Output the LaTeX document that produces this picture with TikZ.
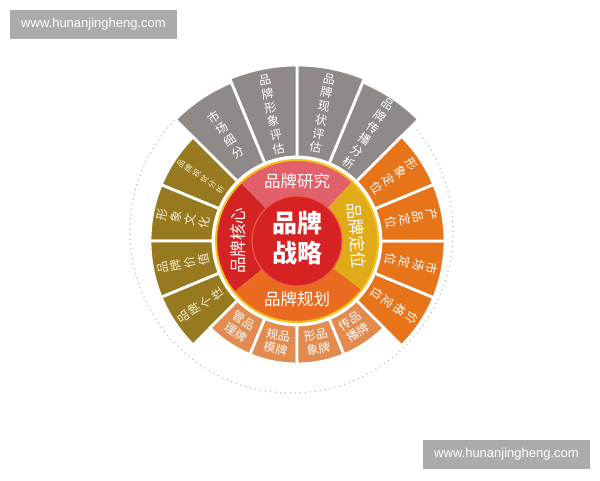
\documentclass[tikz,border=0pt]{standalone}
\usepackage{fontspec}
\newfontfamily\cjk{Noto Sans CJK SC}
\newfontfamily\wmfont{Liberation Sans}
\definecolor{greyseg}{HTML}{8F8987}
\definecolor{oliveseg}{HTML}{97791F}
\definecolor{orangeseg}{HTML}{E8741A}
\definecolor{bottomseg}{HTML}{E38A4E}
\definecolor{qtop}{HTML}{E2606A}
\definecolor{qleft}{HTML}{D42323}
\definecolor{qright}{HTML}{E0AA18}
\definecolor{qbottom}{HTML}{EA6B1F}
\definecolor{corered}{HTML}{D62222}
\definecolor{coreedge}{HTML}{EA5A48}
\definecolor{goldline}{HTML}{F5C21B}
\definecolor{textcream}{HTML}{F6EDCF}
\definecolor{wmgrey}{HTML}{ABABAB}
\definecolor{dotgrey}{HTML}{B4B4B4}
\newcommand{\annsec}[5]{\filldraw[#1] (#2:#4) arc[start angle=#2,end angle=#3,radius=#4] -- (#3:#5) arc[start angle=#3,end angle=#2,radius=#5] -- cycle;}
\newcommand{\annfill}[5]{\fill[#1] (#2:#4) arc[start angle=#2,end angle=#3,radius=#4] -- (#3:#5) arc[start angle=#3,end angle=#2,radius=#5] -- cycle;}
\tikzset{
  segline/.style={draw=white, line width=2.8pt, line join=miter},
  vtext/.style={text=white, align=center, inner sep=0pt, font=\cjk\fontsize{12}{14}\selectfont},
  vsmall/.style={text=textcream, align=center, inner sep=0pt, font=\cjk\fontsize{8}{9.4}\selectfont},
  otext/.style={vtext, text=textcream},
  btext/.style={text=white, align=center, inner sep=0pt, font=\cjk\fontsize{12}{14}\selectfont},
  qtext/.style={text=white, inner sep=0pt, font=\cjk\fontsize{16.5}{18}\selectfont},
  ctext/.style={text=white, align=center, inner sep=0pt, font=\cjk\bfseries\fontsize{25}{29}\selectfont},
  wmbox/.style={fill=wmgrey, text=white, minimum width=167pt, minimum height=29pt, inner sep=0pt, font=\wmfont\fontsize{13}{15}\selectfont},
  dotring/.style={draw=dotgrey, line width=1.5pt, line cap=round, dash pattern=on 0pt off 5pt}
}
\begin{document}
\begin{tikzpicture}[x=1pt,y=1pt]
\useasboundingbox (0,0) rectangle (600,480);
\fill[white] (0,0) rectangle (600,480);
% watermarks
\node[wmbox] (wmA) at (93.5,455.5) {www.hunanjingheng.com};
\node[wmbox] (wmB) at (506.5,25.5) {www.hunanjingheng.com};
% dotted circle
\draw[dotring] (291.5,248.5) circle[radius=161.5];
\begin{scope}[shift={(297,239)}]
  % outer segments: grey (top)
  \annsec{fill=greyseg,segline}{45}{67.5}{84}{172}
  \annsec{fill=greyseg,segline}{67.5}{90}{84}{176}
  \annsec{fill=greyseg,segline}{90}{112.5}{84}{176}
  \annsec{fill=greyseg,segline}{112.5}{135}{84}{172}
  % olive (left)
  \annsec{fill=oliveseg,segline}{135}{157.5}{84}{147}
  \annsec{fill=oliveseg,segline}{157.5}{180}{84}{147}
  \annsec{fill=oliveseg,segline}{180}{202.5}{84}{147}
  \annsec{fill=oliveseg,segline}{202.5}{225}{84}{147}
  % orange (right)
  \annsec{fill=orangeseg,segline}{-45}{-22.5}{84}{148}
  \annsec{fill=orangeseg,segline}{-22.5}{0}{84}{148}
  \annsec{fill=orangeseg,segline}{0}{22.5}{84}{148}
  \annsec{fill=orangeseg,segline}{22.5}{45}{84}{148}
  % bottom
  \annsec{fill=bottomseg,segline}{225}{247.5}{84}{123}
  \annsec{fill=bottomseg,segline}{247.5}{270}{84}{123}
  \annsec{fill=bottomseg,segline}{270}{292.5}{84}{123}
  \annsec{fill=bottomseg,segline}{292.5}{315}{84}{123}
  % ring of four quadrants
  \annfill{qtop}{47}{134}{44}{81}
  \annfill{qleft}{134}{219}{44}{81}
  \annfill{qbottom}{219}{323}{44}{81}
  \annfill{qright}{-37}{47}{44}{81}
  \draw[goldline, line width=2pt] (0,0) circle[radius=81];
  % core
  \filldraw[fill=corered, draw=coreedge, line width=1.2pt] (0,0) circle[radius=45];
  \node[ctext] (core) at (0,3) {品牌\\战略};
  % quadrant labels
  \node[qtext] (qa) at (90:60) {品牌研究};
  \node[qtext, rotate=90] (qb) at (180:59) {品牌核心};
  \node[qtext] (qc) at (-90:58) {品牌规划};
  \node[qtext, rotate=-85] (qd) at (5:60) {品牌定位};
  % grey texts
  \node[vtext, rotate=33.75] (g1) at (123.75:128) {市\\场\\细\\分};
  \node[vtext, rotate=11.25] (g2) at (101.25:129) {品\\牌\\形\\象\\评\\估};
  \node[vtext, rotate=-11.25] (g3) at (78.75:130) {品\\牌\\现\\状\\评\\估};
  \node[vtext, rotate=-33.75] (g4) at (56.25:129) {品\\牌\\传\\播\\分\\析};
  % olive texts
  \node[vsmall, rotate=56.25] (o1) at (146.25:116) {品\\牌\\视\\觉\\分\\析};
  \node[otext, rotate=78.75] (o2) at (168.75:116) {形\\象\\文\\化};
  \node[otext, rotate=101.25] (o3) at (191.25:116) {品\\牌\\价\\值};
  \node[otext, rotate=123.75] (o4) at (213.75:116) {品\\牌\\个\\性};
  % orange texts
  \node[vtext, rotate=-56.25] (r1) at (33.75:117) {形\\象\\定\\位};
  \node[vtext, rotate=-78.75] (r2) at (11.25:117) {产\\品\\定\\位};
  \node[vtext, rotate=-101.25] (r3) at (-11.25:117) {市\\场\\定\\位};
  \node[vtext, rotate=-123.75] (r4) at (-33.75:117) {价\\格\\定\\位};
  % bottom texts
  \node[btext, rotate=-33.75] (b1) at (236.25:103) {管品\\理牌};
  \node[btext, rotate=-11.25] (b2) at (258.75:103) {规品\\模牌};
  \node[btext, rotate=11.25] (b3) at (281.25:103) {形品\\象牌};
  \node[btext, rotate=33.75] (b4) at (303.75:103) {传品\\播牌};
\end{scope}
\end{tikzpicture}
\end{document}
